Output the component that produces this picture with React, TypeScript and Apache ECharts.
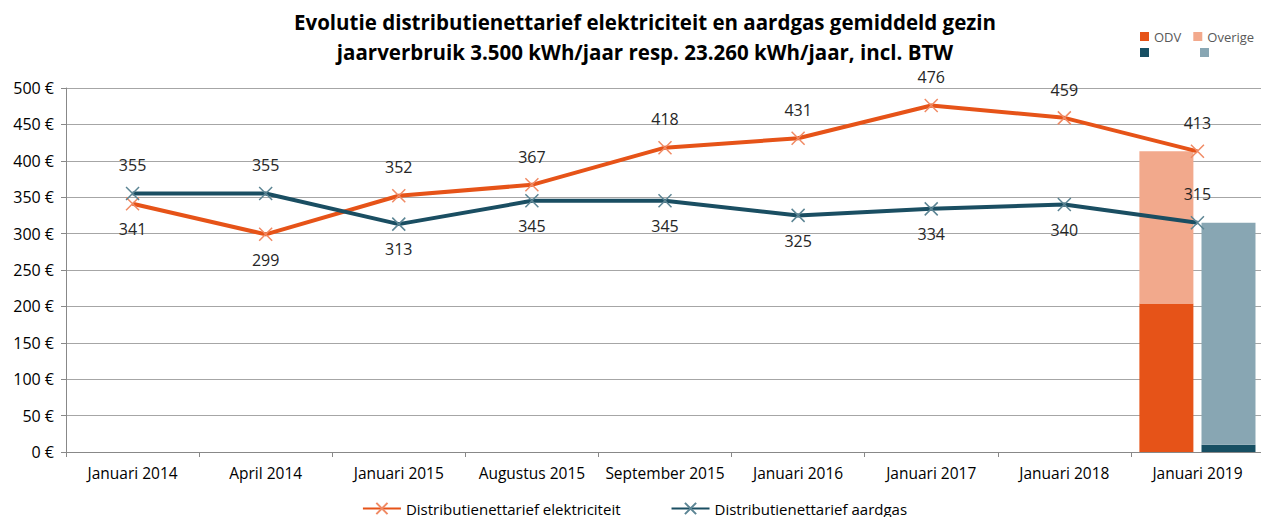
import React, { useEffect, useRef } from "react";
import * as echarts from "echarts";

const categories = [
  "Januari 2014",
  "April 2014",
  "Januari 2015",
  "Augustus 2015",
  "September 2015",
  "Januari 2016",
  "Januari 2017",
  "Januari 2018",
  "Januari 2019",
];
const elecValues = [341, 299, 352, 367, 418, 431, 476, 459, 413];
const gasValues = [355, 355, 313, 345, 345, 325, 334, 340, 315];
const elecLabelPos = ["bottom", "bottom", "top", "top", "top", "top", "top", "top", "top"];
const gasLabelPos = ["top", "top", "bottom", "bottom", "bottom", "bottom", "bottom", "bottom", "top"];
const elecODV = [null, null, null, null, null, null, null, null, 204];
const elecOverige = [null, null, null, null, null, null, null, null, 209];
const gasODV = [null, null, null, null, null, null, null, null, 10];
const gasOverige = [null, null, null, null, null, null, null, null, 305];
const yTicks = [0, 500, 50];

const FONT = "Open Sans";
const XSYM = "path://M0,0L10,10M10,0L0,10";

export default function App() {
  const ref = useRef<HTMLDivElement>(null);
  useEffect(() => {
    if (!ref.current) return;
    const chart = echarts.init(ref.current, null, { renderer: "svg" });
    const mkLine = (vals: number[], pos: string[]) =>
      vals.map((v, i) => ({
        value: v,
        label: { position: pos[i], distance: pos[i] === "top" ? 13 : 10 },
      }));
    chart.setOption({
      animation: false,
      textStyle: { fontFamily: FONT },
      title: {
        text: "Evolutie distributienettarief elektriciteit en aardgas gemiddeld gezin\njaarverbruik 3.500 kWh/jaar resp. 23.260 kWh/jaar, incl. BTW",
        left: 640,
        textAlign: "center",
        top: 2,
        textStyle: {
          fontFamily: FONT,
          fontSize: 20.5,
          fontWeight: "bold",
          color: "#000",
          lineHeight: 30,
        },
      },
      legend: [
        {
          data: ["Distributienettarief elektriciteit", "Distributienettarief aardgas"],
          bottom: 4,
          left: "center",
          itemWidth: 38,
          itemHeight: 14,
          itemGap: 50,
          textStyle: { fontFamily: FONT, fontSize: 15, color: "#000" },
        },
        {
          data: ["ODV", "Overige"],
          left: 1135,
          top: 25,
          itemWidth: 9,
          itemHeight: 9,
          itemGap: 12,
          icon: "rect",
          textStyle: { fontFamily: FONT, fontSize: 13, color: "#595959" },
        },
        {
          data: ["ODV aardgas", "Overige aardgas"],
          left: 1135,
          top: 43,
          itemWidth: 9,
          itemHeight: 9,
          itemGap: 51,
          icon: "rect",
          formatter: () => "",
          textStyle: { fontFamily: FONT, fontSize: 13, color: "#595959" },
        },
      ],
      grid: { left: 66, right: 5, top: 88, bottom: 73, containLabel: false },
      xAxis: {
        type: "category",
        data: categories,
        boundaryGap: true,
        axisLine: { lineStyle: { color: "#888", width: 1 } },
        axisTick: { show: true, length: 5, lineStyle: { color: "#888" } },
        axisLabel: { fontFamily: FONT, fontSize: 15.5, color: "#000", margin: 13, interval: 0 },
      },
      yAxis: {
        type: "value",
        min: yTicks[0],
        max: yTicks[1],
        interval: yTicks[2],
        axisLine: { show: true, lineStyle: { color: "#888" } },
        axisTick: { show: true, length: 5, lineStyle: { color: "#888" } },
        axisLabel: {
          fontFamily: FONT,
          fontSize: 16,
          color: "#000",
          margin: 12,
          formatter: (v: number) => v + " €",
        },
        splitLine: { lineStyle: { color: "#a6a6a6", width: 1 } },
      },
      series: [
        {
          name: "ODV",
          type: "bar",
          stack: "elec",
          data: elecODV,
          barWidth: 54,
          barGap: "15%",
          itemStyle: { color: "#E65318" },
          z: 1,
        },
        {
          name: "Overige",
          type: "bar",
          stack: "elec",
          data: elecOverige,
          barWidth: 54,
          itemStyle: { color: "#F2A98C" },
          z: 1,
        },
        {
          name: "ODV aardgas",
          type: "bar",
          stack: "gas",
          data: gasODV,
          barWidth: 54,
          barGap: "15%",
          itemStyle: { color: "#174F63" },
          z: 1,
        },
        {
          name: "Overige aardgas",
          type: "bar",
          stack: "gas",
          data: gasOverige,
          barWidth: 54,
          itemStyle: { color: "#88A6B3" },
          z: 1,
        },
        {
          name: "Distributienettarief elektriciteit",
          type: "line",
          data: mkLine(elecValues, elecLabelPos),
          symbol: XSYM,
          symbolSize: 13,
          showAllSymbol: true,
          lineStyle: { color: "#E65318", width: 4 },
          itemStyle: { color: "#F08A64", borderColor: "#F08A64", borderWidth: 1.5 },
          label: { show: true, fontFamily: FONT, fontSize: 16, color: "#262626" },
          z: 3,
        },
        {
          name: "Distributienettarief aardgas",
          type: "line",
          data: mkLine(gasValues, gasLabelPos),
          symbol: XSYM,
          symbolSize: 13,
          showAllSymbol: true,
          lineStyle: { color: "#1A4E62", width: 4 },
          itemStyle: { color: "#5C8594", borderColor: "#5C8594", borderWidth: 1.5 },
          label: { show: true, fontFamily: FONT, fontSize: 16, color: "#262626" },
          z: 4,
        },
      ],
    });
    return () => chart.dispose();
  }, []);
  return <div ref={ref} style={{ width: 1269, height: 525, margin: -8 }} />;
}
